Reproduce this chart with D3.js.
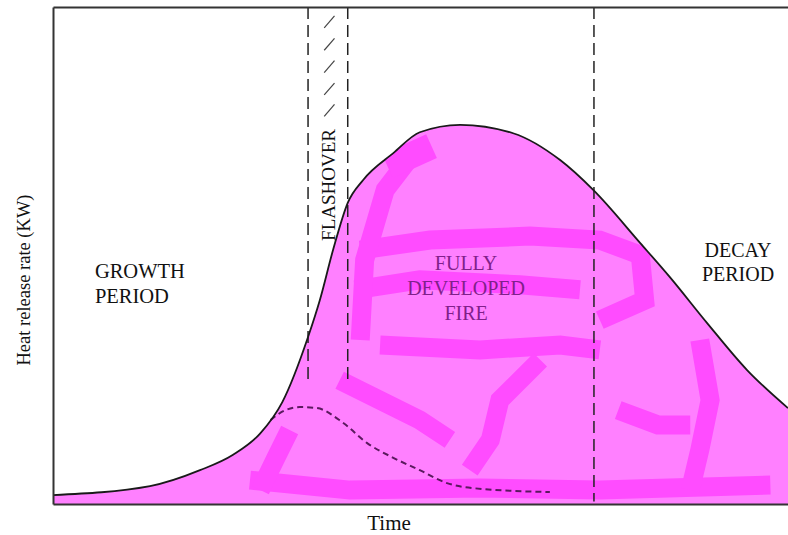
<!DOCTYPE html>
<html>
<head>
<meta charset="utf-8">
<script src="https://cdn.jsdelivr.net/npm/d3@7"></script>
<style>
  body { margin: 0; background: #fff; }
  svg { display: block; }
  text { font-family: "Liberation Serif", "DejaVu Serif", serif; }
</style>
</head>
<body>
<svg width="788" height="535"></svg>
<script>

// heat release curve (time, heat release), arbitrary units 0-100
var hrrTime = [0, 13.2, 20, 24.5, 28.2, 31.2, 34.7, 36.3, 38.1, 40.1, 42.2, 46.3, 49.9, 55.4, 62.6, 69.0, 73.5, 79.9, 83.9, 89.0, 94.4, 100];
var hrrValue = [1.8, 3.6, 6.8, 9.9, 14.2, 20.5, 33.6, 41.0, 51.1, 60.6, 65.2, 70.6, 74.8, 76.3, 74.6, 69.2, 63.2, 52.5, 45.7, 36.4, 27.0, 19.3];

// dashed curve (fire without flashover)
var noFoTime = [29.6, 31.5, 33.6, 35.9, 39.5, 42.7, 46.3, 49.9, 53.6, 57.1, 67.6];
var noFoValue = [16.9, 18.8, 19.5, 19.3, 16.3, 12.3, 9.3, 6.8, 4.2, 3.2, 2.4];

// phase boundaries
var flashoverStart = 34.7, flashoverEnd = 40.1, decayStart = 73.6;

// brush streaks painted over the fill
var streaks = [
  [[41.8, 51.1], [51.3, 53.1], [64.9, 53.9], [74.4, 53.1], [79.9, 50.1], [80.5, 41.0], [74.4, 37.0]],
  [[41.1, 43.1], [49.9, 45.1], [63.5, 44.1], [71.7, 43.1]],
  [[44.5, 32.0], [58.1, 31.0], [69.0, 32.0], [74.4, 31.0]],
  [[49.5, 71.5], [45.2, 63.2], [42.4, 49.1], [41.8, 33.0]],
  [[26.8, 4.8], [40.4, 2.8], [58.1, 3.2], [74.4, 2.8], [97.6, 3.8]],
  [[66.3, 29.0], [60.8, 20.9], [59.5, 12.9], [56.7, 6.8]],
  [[88.0, 33.0], [89.4, 20.9], [88.0, 10.9], [86.7, 2.8]],
  [[32.2, 14.9], [30.2, 8.9], [28.2, 2.8]],
  [[39.0, 24.9], [49.9, 16.9], [54.0, 12.9]],
  [[76.9, 18.9], [82.3, 15.9], [86.7, 15.9]]
];

var svg = d3.select("svg"),
    margin = {top: 7, right: 0, bottom: 31, left: 53},
    width = +svg.attr("width") - margin.left - margin.right,
    height = +svg.attr("height") - margin.top - margin.bottom,
    g = svg.append("g").attr("transform", "translate(" + margin.left + "," + margin.top + ")");

var x = d3.scaleLinear().domain([0, 100]).range([0, width]);
var y = d3.scaleLinear().domain([0, 100]).range([height, 0]);

var hrr = hrrTime.map(function(t, i) { return [t, hrrValue[i]]; });
var noFo = noFoTime.map(function(t, i) { return [t, noFoValue[i]]; });

var area = d3.area()
    .x(function(d) { return x(d[0]); })
    .y0(y(0))
    .y1(function(d) { return y(d[1]); })
    .curve(d3.curveMonotoneX);

var line = d3.line()
    .x(function(d) { return x(d[0]); })
    .y(function(d) { return y(d[1]); })
    .curve(d3.curveMonotoneX);

g.append("clipPath").attr("id", "fireClip")
  .append("path").attr("d", area(hrr));

// fill
g.append("path")
    .attr("d", area(hrr))
    .attr("fill", "#ff80ff");

var streakG = g.append("g").attr("clip-path", "url(#fireClip)");

streakG.selectAll("path")
  .data(streaks)
  .enter().append("path")
    .attr("d", d3.line().x(function(d) { return x(d[0]); }).y(function(d) { return y(d[1]); }))
    .attr("fill", "none")
    .attr("stroke", "#ff4cff")
    .attr("stroke-width", 19)
    .attr("stroke-linejoin", "miter");

// bright patch left of the peak
streakG.append("path")
    .attr("d", d3.line().x(function(d) { return x(d[0]); }).y(function(d) { return y(d[1]); })([[45.5, 68], [51.5, 72]]))
    .attr("stroke", "#ff4cff")
    .attr("stroke-width", 26);

// text inside the fill
g.append("text")
    .attr("text-anchor", "middle")
    .attr("fill", "#80208a")
    .style("font-size", "20px")
  .selectAll("tspan")
  .data(["FULLY", "DEVELOPED", "FIRE"])
  .enter().append("tspan")
    .attr("x", x(56.2))
    .attr("y", function(d, i) { return y(47.0) + i * 25; })
    .text(function(d) { return d; });

// phase boundaries
g.selectAll(".phase")
  .data([[flashoverStart, 25], [flashoverEnd, 25], [decayStart, 0.5]])
  .enter().append("line")
    .attr("class", "phase")
    .attr("x1", function(d) { return x(d[0]); })
    .attr("x2", function(d) { return x(d[0]); })
    .attr("y1", y(100))
    .attr("y2", function(d) { return y(d[1]); })
    .attr("stroke", "#222")
    .attr("stroke-width", 1.5)
    .attr("stroke-dasharray", "12,6");

// hatching in flashover band
g.selectAll(".hatch")
  .data([97, 92.5, 88, 83.5, 79.2])
  .enter().append("line")
    .attr("class", "hatch")
    .attr("x1", x(36.9))
    .attr("x2", x(38.3))
    .attr("y1", function(d) { return y(d - 1.2); })
    .attr("y2", function(d) { return y(d + 1.2); })
    .attr("stroke", "#444")
    .attr("stroke-width", 1.2);

// curves
g.append("path")
    .attr("d", line(noFo))
    .attr("fill", "none")
    .attr("stroke", "#5a1a5e")
    .attr("stroke-width", 2)
    .attr("stroke-dasharray", "6,4");

g.append("path")
    .attr("d", line(hrr))
    .attr("fill", "none")
    .attr("stroke", "#1a1a1a")
    .attr("stroke-width", 1.8);

// axes (no ticks)
g.append("g")
    .attr("transform", "translate(0," + height + ")")
    .call(d3.axisBottom(x).tickValues([]).tickSizeOuter(0));
g.append("g")
    .call(d3.axisLeft(y).tickValues([]).tickSizeOuter(0));
g.append("g")
    .call(d3.axisTop(x).tickValues([]).tickSizeOuter(0));
g.selectAll(".domain").attr("stroke", "#333").attr("stroke-width", 2);

// labels
g.append("text")
    .attr("transform", "translate(" + x(37.4) + "," + y(64.2) + ") rotate(-90)")
    .attr("text-anchor", "middle")
    .attr("dy", "0.35em")
    .attr("fill", "#111")
    .style("font-size", "19px")
    .text("FLASHOVER");

g.append("text")
    .attr("fill", "#111")
    .style("font-size", "20.5px")
  .selectAll("tspan")
  .data(["GROWTH", "PERIOD"])
  .enter().append("tspan")
    .attr("x", x(5.7))
    .attr("y", function(d, i) { return y(45.5) + i * 25; })
    .text(function(d) { return d; });

g.append("text")
    .attr("text-anchor", "middle")
    .attr("fill", "#111")
    .style("font-size", "20px")
  .selectAll("tspan")
  .data(["DECAY", "PERIOD"])
  .enter().append("tspan")
    .attr("x", x(93.2))
    .attr("y", function(d, i) { return y(49.7) + i * 24; })
    .text(function(d) { return d; });

svg.append("text")
    .attr("x", 389)
    .attr("y", 530)
    .attr("text-anchor", "middle")
    .attr("fill", "#111")
    .style("font-size", "21px")
    .text("Time");

svg.append("text")
    .attr("transform", "translate(30,280) rotate(-90)")
    .attr("text-anchor", "middle")
    .attr("fill", "#111")
    .style("font-size", "18.5px")
    .text("Heat release rate (KW)");

</script>
</body>
</html>
